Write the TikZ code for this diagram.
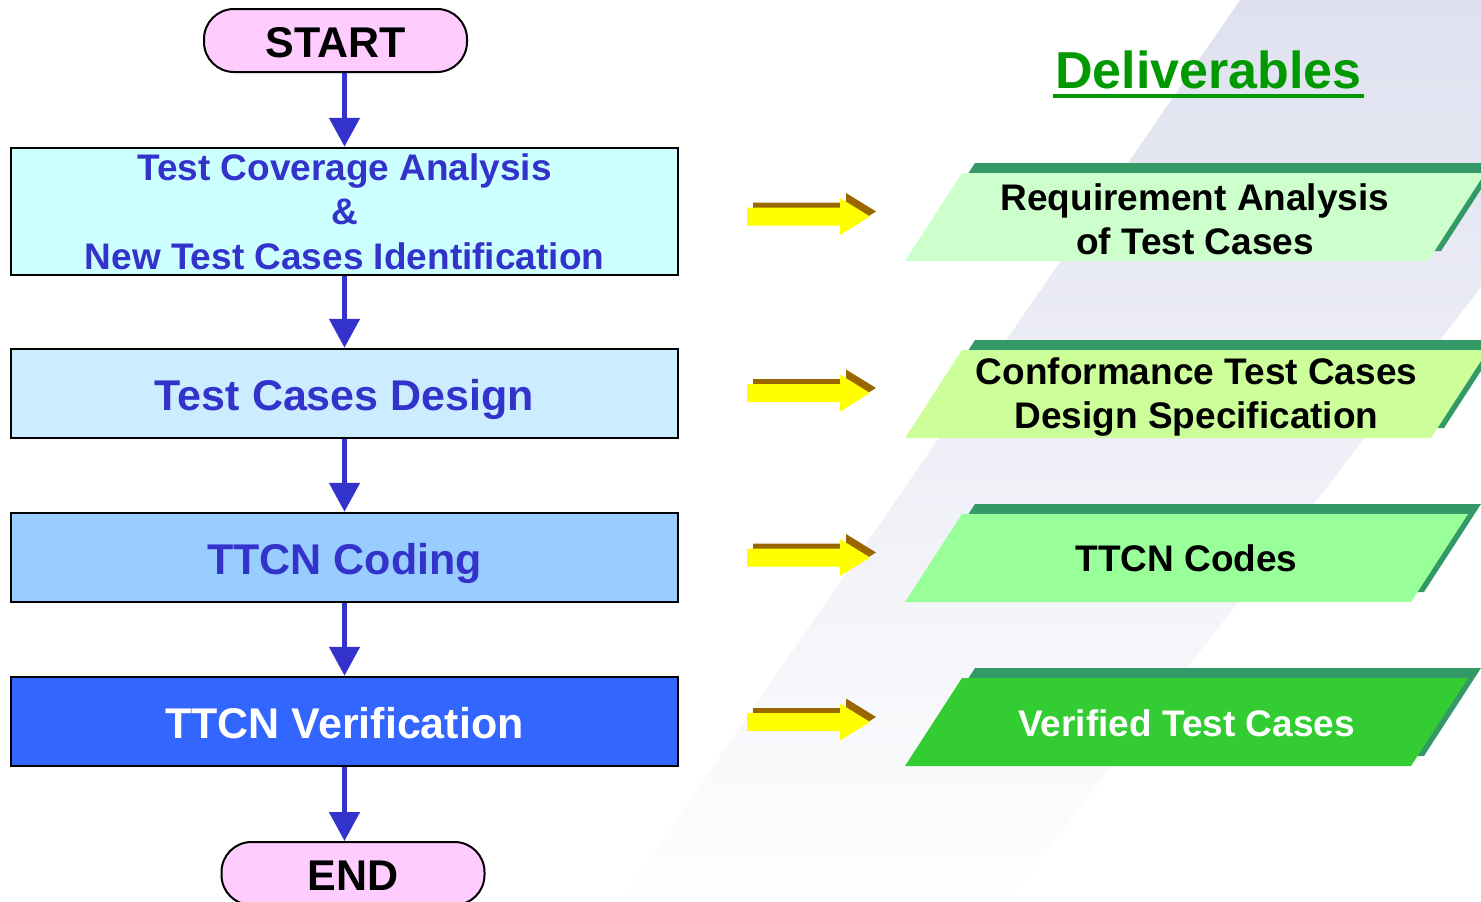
\documentclass[tikz,border=0pt]{standalone}
\usepackage{fontspec}
\setmainfont{Liberation Sans}
\usetikzlibrary{arrows.meta,positioning}
\definecolor{flowBlue}{HTML}{3333CC}
\definecolor{termPink}{HTML}{FFCCFF}
\definecolor{covColor}{HTML}{CCFFFF}
\definecolor{desColor}{HTML}{CCECFF}
\definecolor{codColor}{HTML}{99CCFF}
\definecolor{verColor}{HTML}{3366FF}
\definecolor{delGreen}{HTML}{009900}
\definecolor{shadowGreen}{HTML}{339966}
\definecolor{reqColor}{HTML}{CCFFCC}
\definecolor{specColor}{HTML}{CCFF99}
\definecolor{codeColor}{HTML}{99FF99}
\definecolor{vtcColor}{HTML}{33CC33}
\definecolor{arrYellow}{HTML}{FFFF00}
\definecolor{arrBrown}{HTML}{996600}
\definecolor{bandColor}{HTML}{DFE1EF}
\tikzset{
	term/.style={draw, line width=2pt, fill=termPink, rounded corners=30pt,
		minimum width=263pt, minimum height=63pt, text height=41pt, text depth=7pt,
		font=\fontsize{43}{48}\selectfont\bfseries},
	stage/.style={draw, line width=2.5pt, minimum width=667pt, minimum height=89pt,
		text=flowBlue, align=center, font=\fontsize{43}{48}\selectfont\bfseries},
	stageline/.style={stage, text height=41pt, text depth=7pt},
	flow/.style={-{Triangle[width=30pt,length=29pt]}, line width=5pt, draw=flowBlue},
	delivtext/.style={align=center, font=\fontsize{37}{44}\selectfont\bfseries},
	yarrow/.pic={
		\fill[arrBrown, shift={(6,-5)}] (0,0) -- ++(0,-9) -- ++(93,0) -- ++(0,-9.5) -- ++(30,18.5) -- ++(-30,18.5) -- ++(0,-9.5) -- ++(-93,0) -- cycle;
		\fill[arrYellow] (0,0) -- ++(0,-9) -- ++(93,0) -- ++(0,-9.5) -- ++(30,18.5) -- ++(-30,18.5) -- ++(0,-9.5) -- ++(-93,0) -- cycle;}
}
% #1 text options, #2 name, #3 bottom y, #4 width, #5 fill, #6 text colour, #7 text
\newcommand{\delbox}[7][]{
	\fill[shadowGreen, shift={(13,-10)}] (905,#3) -- ++(57,-88) -- ++(#4,0) -- ++(-57,88) -- cycle;
	\fill[#5] (905,#3) -- ++(57,-88) -- ++(#4,0) -- ++(-57,88) -- cycle;
	\node[delivtext, text=#6, #1] (#2) at (933.5+#4/2, #3-44) {#7};
}

\begin{document}
\begin{tikzpicture}[x=1pt, y=-1pt]
	\useasboundingbox (0,0) rectangle (1481,902);
	\shade[top color=bandColor, bottom color=white!97!bandColor] (1240,0) -- (1481,0) -- (1481,287) -- (1007,902) -- (620,902) -- cycle;

	\node[term] (start) at (335.5, 40.5) {START};
	\node[stage, fill=covColor, minimum height=127pt, font=\fontsize{37}{44.5}\selectfont\bfseries] (cov) at (344.5, 211.5)
		{Test Coverage Analysis\\ \&\\ New Test Cases Identification};
	\node[stageline, fill=desColor] (design) at (344.5, 393.5) {Test Cases Design};
	\node[stageline, fill=codColor] (coding) at (344.5, 557.5) {TTCN Coding};
	\node[stageline, fill=verColor, text=white] (verif) at (344.5, 721.5) {TTCN Verification};
	\node[term] (end) at (353, 873.5) {END};

	\draw[flow] (start.south -| cov.north) -- (cov.north);
	\draw[flow] (cov.south) -- (design.north);
	\draw[flow] (design.south) -- (coding.north);
	\draw[flow] (coding.south) -- (verif.north);
	\draw[flow] (verif.south) -- (verif.south |- end.north);

	\node[text=delGreen, inner sep=0, anchor=base, font=\fontsize{52}{60}\selectfont\bfseries] (dtitle) at (1208.5, 88) {Deliverables};
	\draw[delGreen, line width=3.5pt] ([shift={(-2pt,-8pt)}]dtitle.base west) -- ([shift={(2pt,-8pt)}]dtitle.base east);

	\delbox[yshift=-2pt]{req}{261}{523}{reqColor}{black}{Requirement Analysis\\ of Test Cases}
	\delbox[yshift=-3.5pt]{spec}{438}{526}{specColor}{black}{Conformance Test Cases\\ Design Specification}
	\delbox{codes}{602}{506}{codeColor}{black}{TTCN Codes}
	\delbox[yshift=-1pt]{vtc}{766}{506}{vtcColor}{white}{Verified Test Cases}

	\pic at (747, 216.5) {yarrow};
	\pic at (747, 393) {yarrow};
	\pic at (747, 557.5) {yarrow};
	\pic at (747, 722) {yarrow};
\end{tikzpicture}
\end{document}
